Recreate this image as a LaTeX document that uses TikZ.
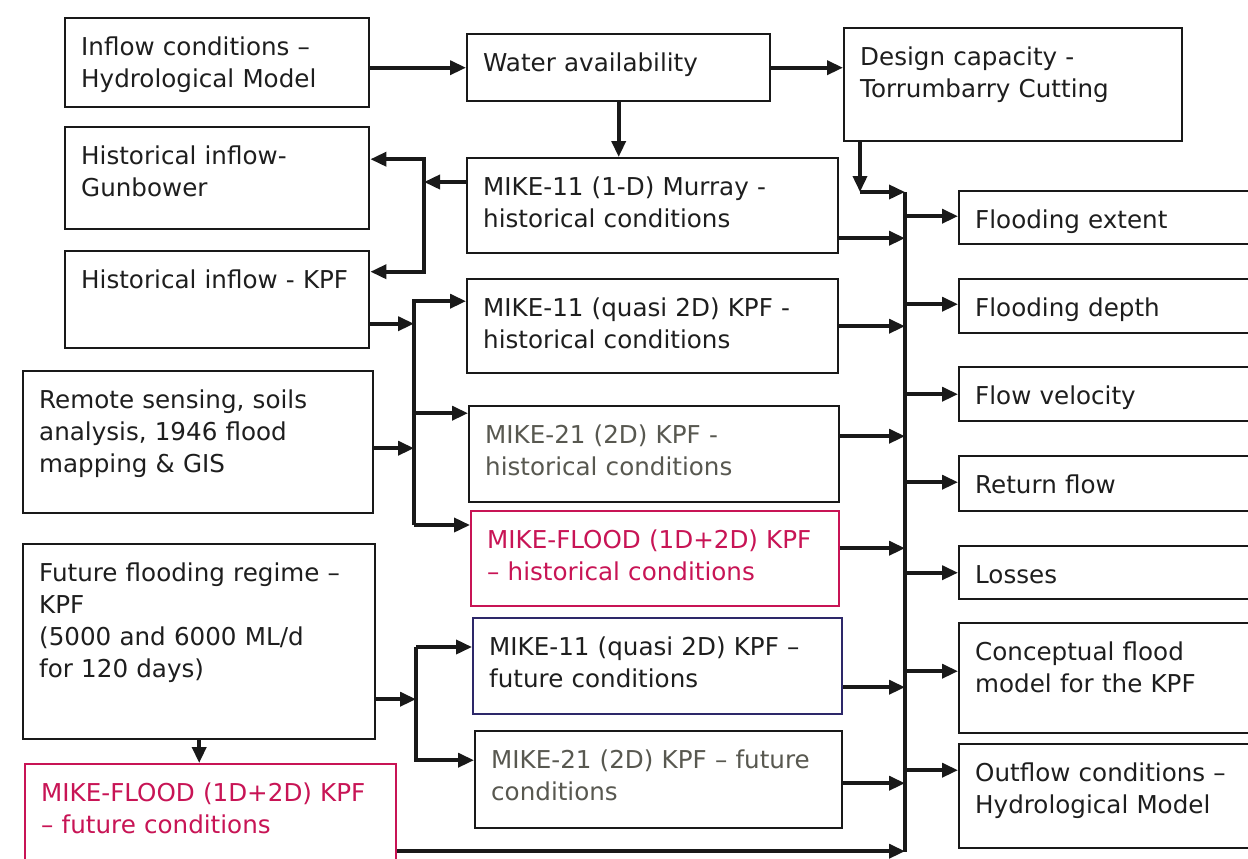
\documentclass[tikz,border=0pt]{standalone}
\usepackage{fontspec}
\setmainfont{DejaVu Sans}
\usepackage{tikz}
\usetikzlibrary{
  arrows.meta,
  positioning,
  calc
}
\definecolor{linecolor}{RGB}{25, 25, 25}
\definecolor{labelcolor}{RGB}{30, 30, 30}
\definecolor{floodcolor}{RGB}{200, 20, 85}
\definecolor{greytext}{RGB}{88, 88, 80}
\definecolor{navyline}{RGB}{45, 40, 105}
\tikzset{
blocktext/.style={
  align=left,
  font=\fontsize{12.3}{16}\selectfont,
  text=labelcolor
},
stepbox/.style 2 args={
  draw=linecolor,
  line width=1.2pt,
  anchor=north west,
  inner xsep=8pt,
  inner ysep=5pt,
  text width=#1,
  text height=13.5pt,
  text depth=#2,
  blocktext
},
floodbox/.style={
  draw=floodcolor,
  text=floodcolor
},
greybox/.style={
  text=greytext
},
navybox/.style={
  draw=navyline
},
arrow/.style={
  -{Triangle[length=8pt,width=7pt]},
  line width=1.8pt,
  draw=linecolor
},
busline/.style={
  line width=1.8pt,
  draw=linecolor
}
}

\begin{document}
\begin{tikzpicture}[x=0.5pt, y=-0.5pt]
      \useasboundingbox[fill=white] (0,0) rectangle (1248,858);

      \node[stepbox={136pt}{21pt}] (inflow) at (64,17) {Inflow conditions --\\Hydrological Model};
      \node[stepbox={135.5pt}{10pt}] (water) at (466,33) {Water availability};
      \node[stepbox={153pt}{33pt}] (design) at (843,27) {Design capacity -\\Torrumbarry Cutting};
      \node[stepbox={136pt}{27.5pt}] (gunbower) at (64,126) {Historical inflow-\\Gunbower};
      \node[stepbox={136pt}{25pt}] (inflowkpf) at (64,250) {Historical inflow - KPF};
      \node[stepbox={159pt}{47.5pt}] (remote) at (22,370) {Remote sensing, soils\\analysis, 1946 flood\\mapping \& GIS};
      \node[stepbox={160pt}{74pt}] (regime) at (22,543) {Future flooding regime --\\KPF\\(5000 and 6000 ML/d\\for 120 days)};
      \node[stepbox={169.5pt}{26.5pt}, floodbox] (floodfut) at (24,763) {MIKE-FLOOD (1D+2D) KPF\\-- future conditions};

      \node[stepbox={169.5pt}{24pt}] (murray) at (466,157) {MIKE-11 (1-D) Murray -\\historical conditions};
      \node[stepbox={169.5pt}{23.5pt}] (quasihist) at (466,278) {MIKE-11 (quasi 2D) KPF -\\historical conditions};
      \node[stepbox={169pt}{24.5pt}, greybox] (mikehist) at (468,405) {MIKE-21 (2D) KPF -\\historical conditions};
      \node[stepbox={168pt}{24pt}, floodbox] (floodhist) at (470,510) {MIKE-FLOOD (1D+2D) KPF\\-- historical conditions};
      \node[stepbox={168.5pt}{24.5pt}, navybox] (quasifut) at (472,617) {MIKE-11 (quasi 2D) KPF --\\future conditions};
      \node[stepbox={167.5pt}{25pt}, greybox] (mikefut) at (474,730) {MIKE-21 (2D) KPF -- future\\conditions};

      \node[stepbox={144pt}{3pt}] (extent) at (958,190) {Flooding extent};
      \node[stepbox={144pt}{3.5pt}] (depth) at (958,278) {Flooding depth};
      \node[stepbox={144pt}{3.5pt}] (velocity) at (958,366) {Flow velocity};
      \node[stepbox={144pt}{4pt}] (returnflow) at (958,455) {Return flow};
      \node[stepbox={144pt}{3pt}] (losses) at (958,545) {Losses};
      \node[stepbox={144pt}{31.5pt}] (concept) at (958,622) {Conceptual flood\\model for the KPF};
      \node[stepbox={144pt}{28.5pt}] (outflow) at (958,743) {Outflow conditions --\\Hydrological Model};

      \coordinate (splitA) at (424,182);
      \coordinate (joinB) at (414,525);
      \coordinate (joinC) at (416,647);
      \coordinate (drop) at (860,192);
      \coordinate (bus) at (905,192);
      \coordinate (busend) at (905,852);

      \draw[arrow] (inflow.east |- water.west) -- (water.west);
      \draw[arrow] (water.east) -- (water.east -| design.west);
      \draw[arrow] (water.south) -- (water.south |- murray.north);

      \draw[arrow] (murray.west |- splitA) -- (splitA);
      \draw[arrow] (splitA) |- ([yshift=9.5pt]gunbower.east);
      \draw[arrow] (splitA) |- ([yshift=14pt]inflowkpf.east);

      \draw[arrow] ([yshift=-12pt]inflowkpf.east) -- ([yshift=-12pt]inflowkpf.east -| joinB);
      \draw[arrow] ([yshift=-3pt]remote.east) -- ([yshift=-3pt]remote.east -| joinB);
      \draw[arrow] (joinB) |- ([yshift=12.5pt]quasihist.west);
      \draw[arrow] ([yshift=20.5pt]mikehist.west -| joinB) -- ([yshift=20.5pt]mikehist.west);
      \draw[arrow] (joinB) -- (joinB -| floodhist.west);

      \draw[arrow] ([yshift=-28.75pt]regime.east) -- ([yshift=-28.75pt]regime.east -| joinC);
      \draw[arrow] (joinC) -- (joinC -| quasifut.west);
      \draw[arrow] (joinC) |- ([yshift=9.75pt]mikefut.west);
      \draw[arrow] (regime.south) -- (regime.south |- floodfut.north);

      \draw[arrow] (design.south west -| drop) -- (drop);
      \draw[arrow] (drop) -- (bus);
      \draw[busline] (bus) -- (busend);

      \draw[arrow] ([yshift=-16.25pt]murray.east) -- ([yshift=-16.25pt]murray.east -| bus);
      \draw[arrow] (quasihist.east) -- (quasihist.east -| bus);
      \draw[arrow] ([yshift=9pt]mikehist.east) -- ([yshift=9pt]mikehist.east -| bus);
      \draw[arrow] ([yshift=5.25pt]floodhist.east) -- ([yshift=5.25pt]floodhist.east -| bus);
      \draw[arrow] ([yshift=-10.5pt]quasifut.east) -- ([yshift=-10.5pt]quasifut.east -| bus);
      \draw[arrow] ([yshift=-1.75pt]mikefut.east) -- ([yshift=-1.75pt]mikefut.east -| bus);
      \draw[arrow] ([yshift=-18.5pt]floodfut.east) -- ([yshift=-18.5pt]floodfut.east -| bus);

      \foreach \out/\sh in {extent/0.75pt, depth/1pt, velocity/0pt, returnflow/0.75pt, losses/0pt, concept/3.5pt, outflow/13pt}
        \draw[arrow] ([yshift=\sh]\out.west -| bus) -- ([yshift=\sh]\out.west);
    \end{tikzpicture}
\end{document}
